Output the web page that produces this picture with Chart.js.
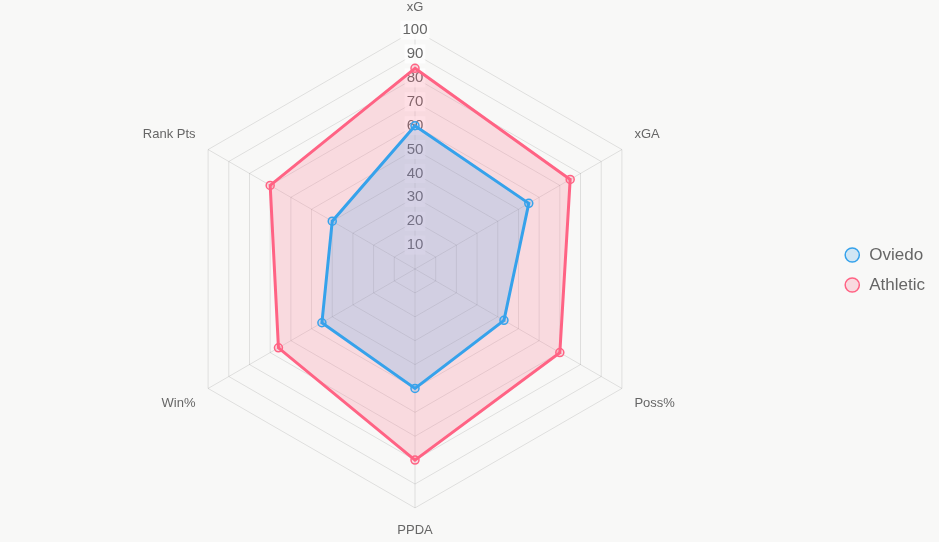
<!DOCTYPE html>
<html>
<head>
<meta charset="utf-8">
<script src="https://cdn.jsdelivr.net/npm/chart.js@4"></script>
<style>
  html, body { margin: 0; padding: 0; background: #f8f8f7; }
  #wrap { width: 939px; height: 542px; }
</style>
</head>
<body>
<div id="wrap"><canvas id="myChart"></canvas></div>
<script>
var metrics = ["xG", "xGA", "Poss%", "PPDA", "Win%", "Rank Pts"];
var oviedoValues = [60, 55, 43, 50, 45, 40];
var athleticValues = [84, 75, 70, 80, 66, 70];

Chart.defaults.font.family = "'Liberation Sans', Arial, sans-serif";

new Chart("myChart", {
  type: "radar",
  data: {
    labels: metrics,
    datasets: [{
      label: "Oviedo",
      data: oviedoValues,
      borderColor: "rgb(54, 162, 235)",
      backgroundColor: "rgba(54, 162, 235, 0.2)",
      pointBackgroundColor: "rgba(54, 162, 235, 0.2)",
      pointBorderColor: "rgb(54, 162, 235)",
      borderWidth: 3,
      pointRadius: 4,
      pointBorderWidth: 1.5
    }, {
      label: "Athletic",
      data: athleticValues,
      borderColor: "rgb(255, 99, 132)",
      backgroundColor: "rgba(255, 99, 132, 0.2)",
      pointBackgroundColor: "rgba(255, 99, 132, 0.2)",
      pointBorderColor: "rgb(255, 99, 132)",
      borderWidth: 3,
      pointRadius: 4,
      pointBorderWidth: 1.5
    }]
  },
  options: {
    responsive: true,
    maintainAspectRatio: false,
    animation: false,
    layout: {padding: {right: 4, top: 1, bottom: 3}},
    plugins: {
      legend: {
        position: "right",
        labels: {
          usePointStyle: true,
          boxHeight: 10,
          padding: 13,
          font: {size: 17},
          color: "#666"
        }
      }
    },
    scales: {
      r: {
        min: 0,
        max: 100,
        ticks: {stepSize: 10, font: {size: 15}, color: "#666"},
        pointLabels: {font: {size: 13}, color: "#666"}
      }
    }
  }
});
</script>
</body>
</html>
